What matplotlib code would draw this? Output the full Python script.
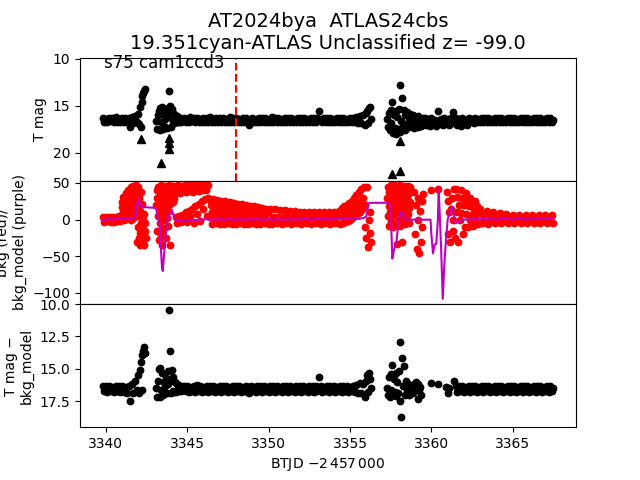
import numpy as np
import matplotlib
matplotlib.use("Agg")
import matplotlib.pyplot as plt

nan = np.nan

# ---------------- data ----------------
# times of the black points (top and bottom panels share them)
btjd = [
    # A
    3339.8, 3339.9, 3340.0, 3340.1, 3340.2, 3340.3, 3340.4, 3340.5, 3340.6, 3340.7,
    3340.8, 3340.9, 3341.0, 3341.1, 3341.2, 3341.3, 3341.4, 3341.5, 3341.6, 3341.7,
    3341.8, 3341.9, 3342.0, 3342.05, 3342.1, 3342.15, 3342.2, 3342.25, 3342.3, 3342.35, 3342.4,
    # B
    3343.1, 3343.15, 3343.2, 3343.25, 3343.3, 3343.35, 3343.4, 3343.45, 3343.5, 3343.55,
    3343.6, 3343.65, 3343.7, 3343.75, 3343.8, 3343.85, 3343.9, 3343.92, 3343.95, 3344.0,
    3344.05, 3344.1, 3344.15, 3344.2, 3344.25, 3344.3, 3344.35, 3344.4, 3344.45, 3344.5,
    3344.55, 3344.6, 3344.65, 3344.7,
    # C
    3344.8, 3344.9, 3345.0, 3345.1, 3345.2, 3345.3, 3345.4, 3345.5, 3345.6, 3345.7,
    3345.8, 3345.9, 3346.0, 3346.1, 3346.2, 3346.3, 3346.4, 3346.5, 3346.6, 3346.7,
    3346.8, 3346.9, 3347.0, 3347.1, 3347.2, 3347.3, 3347.4, 3347.5, 3347.6, 3347.7,
    3347.8, 3347.9, 3348.0, 3348.1, 3348.2, 3348.3, 3348.4, 3348.5, 3348.6, 3348.7,
    3348.8, 3348.9, 3349.0, 3349.1, 3349.2, 3349.3, 3349.4, 3349.5, 3349.6, 3349.7,
    3349.8, 3349.9, 3350.0, 3350.1, 3350.2, 3350.3, 3350.4, 3350.5, 3350.6, 3350.7,
    3350.8, 3350.9, 3351.0, 3351.1, 3351.2, 3351.3, 3351.4, 3351.5, 3351.6, 3351.7,
    3351.8, 3351.9, 3352.0, 3352.1, 3352.2, 3352.3, 3352.4, 3352.5, 3352.6, 3352.7,
    3352.8, 3352.9, 3353.0, 3353.1, 3353.2, 3353.3, 3353.4, 3353.5, 3353.6, 3353.7,
    3353.8, 3353.9, 3354.0, 3354.1, 3354.2, 3354.3, 3354.4, 3354.5, 3354.6, 3354.7,
    3354.8, 3354.9, 3355.0, 3355.1, 3355.2, 3355.3, 3355.4, 3355.5, 3355.6,
    3355.7, 3355.8, 3355.9, 3356.0, 3356.05, 3356.1, 3356.15, 3356.2, 3356.3,
    # D
    3357.3, 3357.35, 3357.4, 3357.45, 3357.5, 3357.55, 3357.6, 3357.65, 3357.7, 3357.75,
    3357.8, 3357.85, 3357.9, 3357.95, 3358.0, 3358.05, 3358.1, 3358.15, 3358.2, 3358.25,
    3358.3, 3358.35, 3358.4, 3358.45, 3358.5, 3358.55, 3358.6, 3358.65, 3358.7, 3358.75,
    3358.8, 3358.85, 3358.9, 3358.95, 3359.0, 3359.05, 3359.1, 3359.15, 3359.2, 3359.25,
    3359.3, 3359.35, 3359.4, 3359.45, 3359.5,
    # E
    3359.6, 3359.7, 3359.8, 3359.9, 3360.0, 3360.1, 3360.2, 3360.3, 3360.4, 3360.5,
    3360.6, 3360.7, 3360.8, 3360.9, 3361.0, 3361.1, 3361.2, 3361.3, 3361.4,
    # F
    3361.5, 3361.6, 3361.7, 3361.8, 3361.9, 3362.0, 3362.1, 3362.2, 3362.3, 3362.4,
    3362.5, 3362.6, 3362.7, 3362.8, 3362.9, 3363.0, 3363.1, 3363.2, 3363.3, 3363.4,
    3363.5, 3363.6, 3363.7, 3363.8, 3363.9, 3364.0, 3364.1, 3364.2, 3364.3, 3364.4,
    3364.5, 3364.6, 3364.7, 3364.8, 3364.9, 3365.0, 3365.1, 3365.2, 3365.3, 3365.4,
    3365.5, 3365.6, 3365.7, 3365.8, 3365.9, 3366.0, 3366.1, 3366.2, 3366.3, 3366.4,
    3366.5, 3366.6, 3366.7, 3366.8, 3366.9, 3367.0, 3367.1, 3367.2, 3367.3, 3367.4,
    3367.5,
]

tmag = [
    # A
    16.3, 16.7, 16.4, 16.75, 16.3, 16.65, 16.35, 16.75, 16.25, 16.7,
    16.4, 16.8, 16.3, 16.7, 16.35, 16.8, 16.3, 17.25, 16.2, 16.9,
    16.1, 16.7, 15.9, 17.0, 15.2, 17.3, 14.6, 14.0, 13.7, 13.4, 13.2,
    # B
    16.6, 17.5, 16.0, 15.6, 17.6, 15.3, 16.8, 15.2, 17.5, 16.0,
    17.2, 16.4, 15.8, 17.4, 16.2, 15.3, 13.5, 15.0, 16.0, 17.3,
    15.4, 16.8, 15.8, 16.9, 16.0, 16.8, 16.1, 16.75, 16.2, 16.7,
    16.3, 16.7, 16.4, 16.6,
    # C
    16.3, 16.7, 16.4, 16.75, 16.25, 16.65, 16.35, 16.75, 16.3, 16.7,
    16.4, 16.8, 16.3, 16.7, 16.35, 16.75, 16.25, 16.7, 16.4, 16.75,
    16.3, 16.7, 16.35, 16.8, 16.3, 16.7, 16.4, 16.75, 16.25, 16.7,
    16.35, 16.75, 16.3, 16.7, 16.4, 16.75, 16.3, 16.7, 16.35, 16.8,
    17.1, 16.7, 16.3, 16.75, 16.4, 16.7, 16.3, 16.75, 16.35, 16.7,
    16.3, 16.75, 16.4, 16.7, 16.25, 16.75, 16.35, 16.7, 16.3, 16.75,
    16.4, 16.7, 16.3, 16.75, 16.35, 16.7, 16.3, 16.8, 16.4, 16.7,
    16.3, 16.75, 16.35, 16.7, 16.3, 16.75, 16.4, 16.7, 16.3, 16.75,
    16.35, 16.7, 16.3, 15.6, 16.4, 16.75, 16.3, 16.7, 16.35, 16.75,
    16.3, 16.7, 16.4, 16.75, 16.3, 16.7, 16.35, 16.75, 16.3, 16.7,
    16.4, 16.75, 16.3, 16.7, 16.35, 16.8, 16.2, 16.85, 16.1,
    16.9, 16.0, 17.1, 15.8, 15.6, 16.9, 15.3, 15.1, 16.4,
    # D
    16.4, 17.3, 15.8, 17.6, 15.5, 16.9, 14.6, 17.9, 16.0, 17.4,
    15.6, 18.0, 16.2, 17.5, 15.4, 17.8, 12.8, 16.6, 14.2, 17.2,
    15.5, 17.6, 16.0, 17.0, 15.7, 16.9, 16.2, 17.3, 15.9, 16.8,
    16.3, 17.2, 16.0, 17.4, 16.2, 16.9, 16.4, 17.3, 16.1, 17.0,
    16.3, 17.2, 16.5, 16.9, 16.3,
    # E
    16.3, 17.1, 16.4, 17.2, 16.3, 16.9, 16.5, 17.2, 15.6, 17.0,
    16.4, 17.1, 16.3, 16.9, 16.4, 17.1, 16.3, 15.7, 16.9,
    # F
    16.3, 17.1, 16.4, 17.2, 16.3, 16.9, 16.5, 17.1, 16.3, 16.8,
    16.4, 16.9, 16.3, 16.75, 16.4, 16.8, 16.3, 16.7, 16.35, 16.75,
    16.3, 16.7, 16.4, 16.75, 16.3, 16.7, 16.35, 16.8, 16.3, 16.7,
    16.4, 16.75, 16.3, 16.7, 16.35, 16.75, 16.3, 16.7, 16.4, 16.75,
    16.3, 16.7, 16.35, 16.75, 16.3, 16.7, 16.4, 16.75, 16.3, 16.7,
    16.35, 16.75, 16.3, 16.7, 16.4, 16.75, 16.3, 16.7, 16.35, 16.75,
    16.5,
]

tmag_sub = [
    # A
    16.3, 16.7, 16.35, 16.75, 16.3, 16.7, 16.4, 16.75, 16.3, 16.7,
    16.35, 16.8, 16.3, 16.75, 16.4, 16.9, 16.3, 17.45, 16.2, 16.9,
    15.9, 16.6, 15.5, 16.9, 15.1, 14.5, 16.6, 13.9, 13.6, 13.3, 13.8,
    # B
    16.5, 17.2, 15.9, 15.0, 17.2, 14.9, 16.6, 15.3, 17.0, 16.0,
    16.8, 16.3, 15.7, 16.9, 16.2, 15.2, 10.5, 13.6, 15.9, 16.9,
    15.1, 16.7, 15.6, 16.8, 16.0, 16.75, 16.2, 16.7, 16.25, 16.7,
    16.3, 16.7, 16.35, 16.6,
    # C
    16.35, 16.7, 16.3, 16.75, 16.4, 16.7, 16.3, 16.75, 16.25, 16.7,
    16.3, 16.75, 16.4, 16.7, 16.3, 16.8, 16.35, 16.7, 16.3, 16.75,
    16.4, 16.7, 16.3, 16.75, 16.35, 16.7, 16.3, 16.8, 16.4, 16.7,
    16.3, 16.75, 16.35, 16.7, 16.3, 16.75, 16.4, 16.7, 16.3, 16.75,
    16.9, 16.3, 16.7, 16.4, 16.75, 16.3, 16.7, 16.35, 16.75, 16.3,
    16.7, 16.4, 16.75, 16.3, 16.7, 16.35, 16.8, 16.3, 16.7, 16.4,
    16.75, 16.3, 16.7, 16.35, 16.75, 16.3, 16.7, 16.4, 16.75, 16.3,
    16.7, 16.35, 16.75, 16.3, 16.7, 16.4, 16.75, 16.3, 16.7, 16.35,
    16.75, 16.3, 16.7, 15.6, 16.3, 16.75, 16.4, 16.7, 16.3, 16.75,
    16.35, 16.7, 16.3, 16.75, 16.4, 16.7, 16.3, 16.75, 16.35, 16.7,
    16.3, 16.75, 16.4, 16.7, 16.3, 16.8, 16.25, 16.9, 16.1,
    16.9, 16.2, 17.2, 15.9, 15.5, 16.8, 15.3, 15.8, 16.5,
    # D
    16.5, 17.0, 15.6, 17.2, 15.4, 16.6, 14.7, 17.0, 15.8, 16.8,
    15.3, 17.1, 16.0, 16.9, 15.2, 17.5, 12.9, 18.7, 14.2, 16.3,
    14.8, 16.3, 17.0, 15.9, 16.6, 16.2, 17.0, 16.5, 16.4, 16.8,
    16.5, 16.3, 16.9, 16.2, 16.6, 16.0, 16.5, 17.3, 16.2, 16.6,
    16.4, 17.0, nan, nan, nan,
    # E
    nan, nan, nan, nan, 16.1, nan, nan, nan, 16.2, nan,
    nan, nan, nan, 16.4, 16.9, 16.5, nan, nan, 15.9,
    # F
    16.3, 16.75, 16.35, 16.7, 16.3, 16.8, 16.4, 16.7, 16.3, 16.75,
    16.35, 16.7, 16.3, 16.75, 16.4, 16.7, 16.3, 16.75, 16.35, 16.7,
    16.3, 16.75, 16.4, 16.7, 16.3, 16.75, 16.35, 16.7, 16.3, 16.75,
    16.4, 16.7, 16.3, 16.75, 16.35, 16.7, 16.3, 16.8, 16.4, 16.7,
    16.3, 16.75, 16.35, 16.7, 16.3, 16.75, 16.4, 16.7, 16.3, 16.75,
    16.35, 16.7, 16.3, 16.75, 16.4, 16.7, 16.3, 16.75, 16.35, 16.7,
    16.5,
]

# background flux (red points): times and values, row by row
bkg_btjd = [
    # A1
    3339.8, 3339.9, 3340.0, 3340.1, 3340.2, 3340.3, 3340.4, 3340.5, 3340.6, 3340.7,
    3340.8, 3340.9,
    # A2
    3340.95, 3340.975, 3341.0, 3341.025, 3341.05, 3341.075, 3341.1, 3341.125, 3341.15, 3341.175,
    3341.2, 3341.225, 3341.25, 3341.275, 3341.3, 3341.325, 3341.35, 3341.375, 3341.4, 3341.425,
    3341.45, 3341.475, 3341.5, 3341.525, 3341.55, 3341.575, 3341.6, 3341.625, 3341.65, 3341.675,
    3341.7, 3341.725, 3341.75, 3341.775, 3341.8, 3341.825, 3341.85,
    # A3
    3341.875, 3341.9, 3341.925, 3341.95, 3341.975, 3342.0, 3342.025, 3342.05, 3342.075, 3342.1,
    3342.125, 3342.15, 3342.175, 3342.2, 3342.225, 3342.25, 3342.275, 3342.3, 3342.325, 3342.35,
    3342.375, 3342.4, 3342.425, 3342.45,
    # B
    3343.1, 3343.125, 3343.15, 3343.175, 3343.2, 3343.225, 3343.25, 3343.275, 3343.3, 3343.325,
    3343.35, 3343.375, 3343.4, 3343.425, 3343.45, 3343.475, 3343.5, 3343.525, 3343.55, 3343.575,
    3343.6, 3343.625, 3343.65, 3343.675, 3343.7, 3343.725, 3343.75, 3343.775, 3343.8, 3343.825,
    3343.85, 3343.875, 3343.9, 3343.925, 3343.95, 3343.975, 3344.0, 3344.025, 3344.05, 3344.075,
    3344.1, 3344.125, 3344.15, 3344.175, 3344.2,
    # B2
    3344.25, 3344.3, 3344.35, 3344.4, 3344.45, 3344.5, 3344.55, 3344.6, 3344.65, 3344.7,
    3344.75, 3344.8, 3344.85, 3344.9, 3344.95, 3345.0, 3345.05, 3345.1, 3345.15, 3345.2,
    3345.25, 3345.3, 3345.35, 3345.4, 3345.45, 3345.5, 3345.55, 3345.6, 3345.65, 3345.7,
    3345.75, 3345.8, 3345.85, 3345.9, 3345.95, 3346.0, 3346.05, 3346.1, 3346.15, 3346.2,
    3346.25, 3346.3,
    # C1
    3346.35, 3346.4, 3346.45, 3346.5, 3346.55, 3346.6, 3346.65, 3346.7, 3346.75, 3346.8,
    3346.85, 3346.9, 3346.95, 3347.0, 3347.05, 3347.1, 3347.15, 3347.2, 3347.25, 3347.3,
    3347.35, 3347.4, 3347.45, 3347.5, 3347.55, 3347.6, 3347.65, 3347.7, 3347.75, 3347.8,
    3347.85, 3347.9, 3347.95, 3348.0, 3348.05, 3348.1, 3348.15, 3348.2, 3348.25, 3348.3,
    3348.35, 3348.4, 3348.45, 3348.5, 3348.55, 3348.6, 3348.65, 3348.7, 3348.75, 3348.8,
    3348.85, 3348.9, 3348.95, 3349.0, 3349.05, 3349.1, 3349.15, 3349.2, 3349.25, 3349.3,
    3349.35, 3349.4, 3349.45, 3349.5, 3349.55, 3349.6, 3349.65, 3349.7, 3349.75, 3349.8,
    3349.85, 3349.9, 3349.95, 3350.0,
    # C2
    3350.1, 3350.2, 3350.3, 3350.4, 3350.5, 3350.6, 3350.7, 3350.8, 3350.9, 3351.0,
    3351.1, 3351.2, 3351.3, 3351.4, 3351.5, 3351.6, 3351.7, 3351.8, 3351.9, 3352.0,
    3352.1, 3352.2, 3352.3, 3352.4, 3352.5, 3352.6, 3352.7, 3352.8, 3352.9, 3353.0,
    3353.1, 3353.2, 3353.3, 3353.4, 3353.5, 3353.6, 3353.7, 3353.8, 3353.9, 3354.0,
    3354.1, 3354.2, 3354.3, 3354.4,
    # C3
    3354.5, 3354.55, 3354.6, 3354.65, 3354.7, 3354.75, 3354.8, 3354.85, 3354.9, 3354.95,
    3355.0, 3355.05, 3355.1, 3355.15, 3355.2, 3355.25, 3355.3, 3355.35, 3355.4, 3355.45,
    3355.5, 3355.55, 3355.6, 3355.65, 3355.7, 3355.75, 3355.8, 3355.85,
    # C4
    3355.9, 3355.95, 3356.0, 3356.05, 3356.1, 3356.15, 3356.2, 3356.25, 3356.3,
    # D
    3357.3, 3357.325, 3357.35, 3357.375, 3357.4, 3357.425, 3357.45, 3357.475, 3357.5, 3357.525,
    3357.55, 3357.575, 3357.6, 3357.625, 3357.65, 3357.675, 3357.7, 3357.725, 3357.75, 3357.775,
    3357.8, 3357.825, 3357.85, 3357.875, 3357.9, 3357.925, 3357.95, 3357.975, 3358.0, 3358.025,
    3358.05, 3358.075, 3358.1, 3358.125, 3358.15, 3358.175, 3358.2, 3358.225, 3358.25, 3358.275,
    3358.3, 3358.325, 3358.35, 3358.375, 3358.4, 3358.425, 3358.45, 3358.475, 3358.5, 3358.525,
    3358.55, 3358.575, 3358.6, 3358.625, 3358.65, 3358.675, 3358.7,
    # D2
    3358.95, 3359.0, 3359.05, 3359.1, 3359.15, 3359.2, 3359.25, 3359.3, 3359.35, 3359.4,
    3359.45, 3359.5,
    # E
    3359.95, 3360.4, 3360.95, 3361.0, 3361.05, 3361.1, 3361.15, 3361.2, 3361.25, 3361.3,
    3361.35, 3361.4, 3361.45,
    # F
    3361.5, 3361.55, 3361.6, 3361.65, 3361.7, 3361.75, 3361.8, 3361.85, 3361.9, 3361.95,
    3362.0, 3362.05, 3362.1, 3362.15, 3362.2, 3362.25, 3362.3, 3362.35, 3362.4, 3362.45,
    3362.5, 3362.55, 3362.6, 3362.65, 3362.7, 3362.75, 3362.8, 3362.85, 3362.9,
    # F2
    3363.0, 3363.1, 3363.2, 3363.3, 3363.4, 3363.5, 3363.6, 3363.7, 3363.8, 3363.9,
    3364.0, 3364.1, 3364.2, 3364.3, 3364.4, 3364.5, 3364.6, 3364.7, 3364.8, 3364.9,
    3365.0, 3365.1, 3365.2, 3365.3, 3365.4, 3365.5, 3365.6, 3365.7, 3365.8, 3365.9,
    3366.0, 3366.1, 3366.2, 3366.3, 3366.4, 3366.5, 3366.6, 3366.7, 3366.8, 3366.9,
    3367.0, 3367.1, 3367.2, 3367.3, 3367.4, 3367.5,
]

bkg = [
    # A1
    4, -3, 3, -2, 4, -3, 3, -3, 4, -2,
    5, -2,
    # A2
    1, 17, 6, 24, 12, 31, 0, 20, 7, 28,
    14, 36, 1, 23, 8, 32, 16, 41, 2, 25,
    9, 35, 18, 45, 0, 28, 10, 37, 18, 46,
    2, 28, 9, 37, 19, 47, 30,
    # A3
    40, -30, 20, -10, 44, 5, -25, 30, -35, 12,
    -18, 38, -5, -30, 22, -12, 0, -28, 8, -20,
    -35, -5, -15, -25,
    # B
    20, 40, -15, 30, 5, 45, -28, 15, 35, -5,
    25, 47, -20, 10, 38, -34, 20, 0, 44, -12,
    30, 8, 46, -25, 16, 36, 2, 26, 45, -8,
    33, 12, 47, 22, -34, 40, 28, 34, 46, 30,
    38, 24, 46, 28, 34,
    # B2
    46, 3, 38, -4, 47, 5, 37, -3, 46, 7,
    39, 0, 47, 10, 38, -3, 46, 12, 39, 5,
    48, 15, 38, -4, 47, 18, 40, 8, 48, 22,
    39, -2, 47, 25, 40, 14, 48, 28, 41, 5,
    47, 30,
    # C1
    28, 3, 20, -6, 11, 28, 2, 19, -5, 11,
    27, 2, 19, -6, 10, 26, 2, 18, -6, 10,
    25, 1, 17, -5, 9, 24, 1, 16, -6, 9,
    23, 1, 16, -6, 8, 22, 1, 15, -5, 8,
    21, 0, 14, -6, 7, 20, 0, 13, -6, 7,
    19, 0, 13, -5, 6, 18, 0, 12, -6, 6,
    17, -1, 11, -6, 5, 16, -1, 10, -5, 5,
    15, -1, 10, -6,
    # C2
    14, -6, 4, 14, -5, 4, 13, -6, 3, 13,
    -5, 3, 12, -6, 3, 12, -5, 3, 11, -6,
    2, 11, -5, 2, 10, -6, 2, 10, -5, 2,
    10, -6, 2, 10, -5, 2, 11, -6, 3, 11,
    -5, 3, 12, -6,
    # C3
    16, -4, 6, 18, -3, 8, 20, -2, 10, 23,
    0, 12, 26, 2, 15, 30, 5, 18, 34, 8,
    22, 38, 10, 26, 42, 14, 30, 45,
    # C4
    -10, 20, -25, 44, -37, 0, -18, 10, -30,
    # D
    30, 5, 45, 18, -8, 38, 10, 26, 47, -2,
    34, 14, 42, 22, -10, 47, 6, 30, 40, 16,
    -5, 36, 24, 46, -33, 10, 44, 28, 0, 40,
    18, 47, -8, 32, 12, 45, 22, -31, 38, 4,
    46, 26, -6, 35, 14, 44, 20, 0, 40, 30,
    8, 46, 16, 36, -4, 44, 24,
    # D2
    38, -20, 20, -40, 30, 0, -46, 12, -30, 25,
    -10, 35,
    # E
    40, 42, 38, 25, -20, 10, -30, 15, 30, -15,
    0, 42, -25,
    # F
    42, 10, 31, -30, 20, -1, 40, 9, 30, -20,
    20, -10, 36, 8, 27, -10, 18, 0, 30, 7,
    22, -8, 15, 0, 25, 6, 19, -6, 13,
    # F2
    14, -5, 6, -3, 12, -6, 5, -2, 10, -5,
    4, -3, 9, -5, 3, -2, 8, -5, 4, -3,
    7, -5, 3, -2, 7, -4, 2, -3, 6, -5,
    3, -2, 7, -4, 2, -3, 6, -5, 3, -2,
    7, -4, 3, -3, 6, -5,
]

# background model (purple line)
model_btjd = [
    3339.8, 3340.0, 3340.2, 3340.4, 3340.6, 3340.8, 3340.9, 3341.0, 3341.1, 3341.2, 3341.3, 3341.4, 3341.5,
    3341.6, 3341.7, 3341.8, 3341.9, 3342.0, 3342.05, 3342.1, 3342.15, 3342.2, 3342.25, 3342.3, 3342.35, 3342.4,
    3343.1, 3343.2, 3343.25, 3343.3, 3343.35, 3343.4, 3343.45, 3343.5, 3343.55, 3343.6, 3343.7, 3343.8, 3343.85,
    3343.9, 3343.92, 3343.95, 3344.0, 3344.05, 3344.1, 3344.2, 3344.3, 3344.4, 3344.5, 3344.6, 3344.7,
    3344.8, 3345.0, 3345.2, 3345.4, 3345.6, 3345.8, 3346.0, 3346.2, 3346.4, 3346.6,
    3346.8, 3347.0, 3347.2, 3347.4, 3347.6, 3347.8, 3348.0, 3348.2, 3348.4, 3348.6,
    3348.8, 3349.0, 3349.2, 3349.4, 3349.6, 3349.8, 3350.0, 3350.2, 3350.4, 3350.6,
    3350.8, 3351.0, 3351.2, 3351.4, 3351.6, 3351.8, 3352.0, 3352.2, 3352.4, 3352.6,
    3352.8, 3353.0, 3353.2, 3353.4, 3353.6, 3353.8, 3354.0, 3354.2, 3354.4, 3354.6,
    3354.8, 3355.0, 3355.2, 3355.4, 3355.6,
    3355.7, 3355.8, 3355.9, 3356.0, 3356.05, 3356.1, 3356.15, 3356.2, 3356.3,
    3357.3, 3357.4, 3357.45, 3357.5, 3357.55, 3357.6, 3357.65, 3357.7, 3357.75, 3357.8, 3357.85, 3357.9, 3357.95,
    3358.0, 3358.05, 3358.1, 3358.15, 3358.2, 3358.3, 3358.4, 3358.5, 3358.6, 3358.7, 3358.8, 3358.9, 3359.0,
    3359.1, 3359.2, 3359.3, 3359.4, 3359.5,
    3359.6, 3359.8, 3359.95, 3360.0, 3360.1, 3360.2, 3360.3, 3360.4, 3360.45, 3360.6, 3360.7, 3360.8, 3360.9,
    3361.0, 3361.1, 3361.2, 3361.3, 3361.4,
    3361.5, 3361.7, 3361.9, 3362.1, 3362.3, 3362.5, 3362.7, 3362.9, 3363.1, 3363.3, 3363.5, 3363.7, 3363.9,
    3364.1, 3364.3, 3364.5, 3364.7, 3364.9, 3365.1, 3365.3, 3365.5, 3365.7, 3365.9, 3366.1, 3366.3, 3366.5,
    3366.7, 3366.9, 3367.1, 3367.3, 3367.5,
]

bkg_model = [
    0, 0, 1, 0, 1, 1, 1, 1, 1, 1, 2, 2, 2,
    2, 2, 3, 15, 30, 25, 20, 18, 18, 17, 17, 17, 17,
    16, 2, 0, -5, -20, -45, -65, -70, -55, -42, -18, 0, 5,
    8, 9, 10, 11, 12, 10, 4, 0, -2, -2, -1, -2,
    -2, -1, -1, 0, -1, 0, 0, 1, 0, 0,
    0, 1, 0, 0, 1, 0, 0, 1, 0, 0,
    1, 0, 0, 1, 0, 0, 1, 0, 0, 1,
    0, 0, 1, 0, 0, 1, 0, 1, 1, 0,
    1, 1, 0, 1, 1, 0, 1, 1, 1, 1,
    1, 1, 1, 1, 1,
    2, 2, 3, 4, 10, 18, 22, 23, 23,
    23, 22, 20, 15, -20, -53, -48, -42, -37, -34, -32, -20, -10,
    0, 4, 8, 10, 10, 6, 2, 0, 0, 0, 0, 0, 0,
    0, 0, 0, 0, 0,
    0, 0, 0, -20, -46, -34, -33, 0, 42, -40, -108, -60, -27,
    0, 8, 14, 18, 5,
    -5, -2, 0, 0, 1, 0, 1, 0, 1, 1, 0, 1, 1,
    0, 1, 1, 1, 0, 1, 1, 1, 1, 0, 1, 1, 1,
    1, 1, 1, 1, 1,
]

# upper limits (triangles) in the top panel
ul_btjd = [3342.15, 3343.38, 3343.9, 3343.9, 3343.9, 3358.06, 3357.6, 3358.1]
ul_mag = [18.6, 21.1, 18.4, 19.0, 19.6, 18.8, 22.3, 22.0]

mark_btjd = 3348.0

title = "AT2024bya  ATLAS24cbs\n19.351cyan-ATLAS Unclassified z= -99.0"
sector_label = "s75 cam1ccd3"

n_k = min(len(btjd), len(tmag), len(tmag_sub))
n_b = min(len(bkg_btjd), len(bkg))
n_m = min(len(model_btjd), len(bkg_model))
print(len(btjd), len(tmag), len(tmag_sub), len(bkg_btjd), len(bkg), len(model_btjd), len(bkg_model))

fig, (ax1, ax2, ax3) = plt.subplots(3, 1, sharex=True, figsize=(6.4, 4.8), dpi=100)
fig.subplots_adjust(hspace=0)

ms = 4.6
ax1.plot(btjd[:n_k], tmag[:n_k], 'o', color='k', ms=ms, ls='none')
ax1.plot(ul_btjd, ul_mag, '^', color='k', ms=6, ls='none')
ax1.axvline(mark_btjd, color='r', ls='--', lw=1.5)
ax1.set_ylim(23.0, 9.9)
ax1.set_yticks([10, 15, 20])
ax1.set_ylabel('T mag')
ax1.set_title(title, fontsize=14)
ax1.text(3339.9, 11.05, sector_label, fontsize=12)

ax2.plot(bkg_btjd[:n_b], bkg[:n_b], 'o', color='r', ms=ms, ls='none')
ax2.plot(model_btjd[:n_m], bkg_model[:n_m], '-', color='m', lw=1.5)
ax2.set_ylim(-115, 53)
ax2.set_yticks([50, 0, -50, -100])
ax2.set_ylabel('bkg (red)/\nbkg_model (purple)')

ax3.plot(btjd[:n_k], tmag_sub[:n_k], 'o', color='k', ms=ms, ls='none')
ax3.set_ylim(19.5, 10.0)
ax3.set_yticks([10.0, 12.5, 15.0, 17.5])
ax3.set_ylabel('T mag \u2212\nbkg_model')
ax3.set_xlabel(r'BTJD $-2\,457\,000$')

fig.savefig('out.png', dpi=100)
